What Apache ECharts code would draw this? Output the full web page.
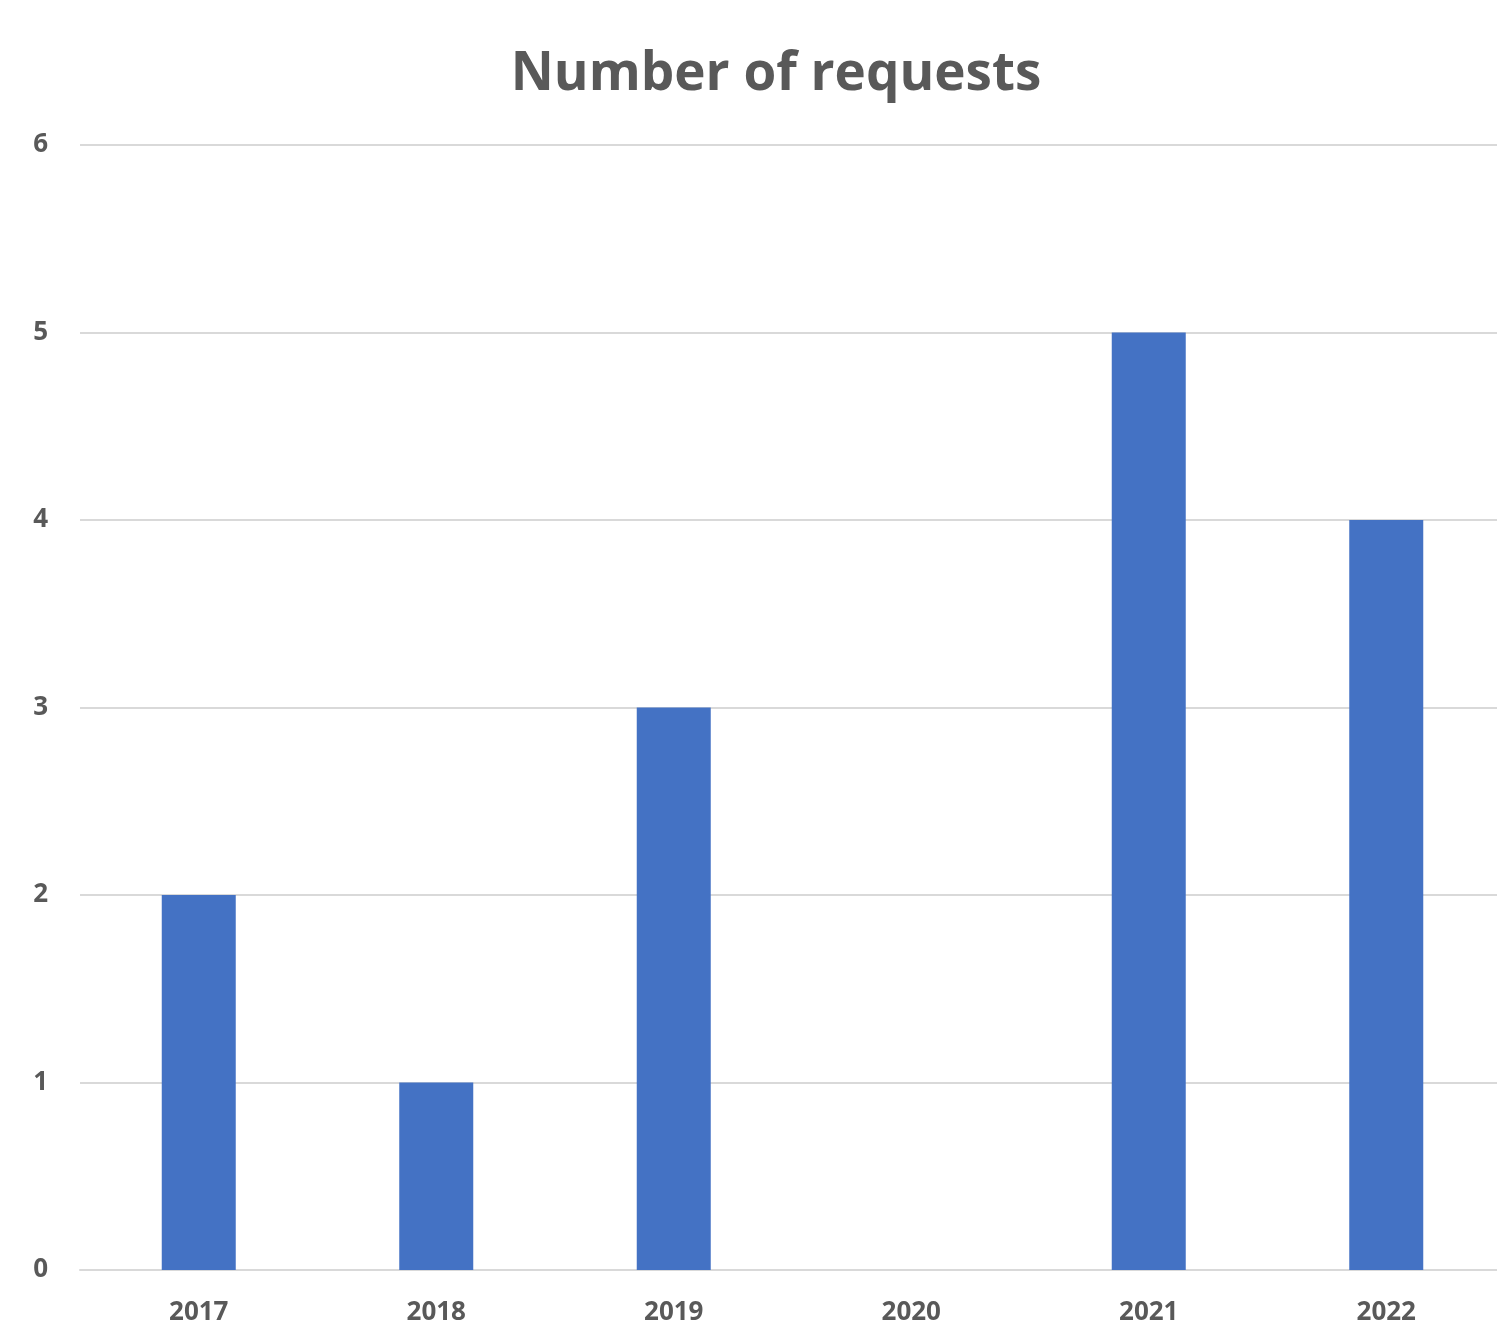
<!DOCTYPE html>
<html><head><meta charset="utf-8">
<script src="https://cdn.jsdelivr.net/npm/echarts@6/dist/echarts.min.js"></script>
<style>html,body{margin:0;padding:0;background:#fff}#c{width:1497px;height:1321px}</style>
</head><body><div id="c"></div>
<script>
const categories = ['2017','2018','2019','2020','2021','2022'];
const requests = [2, 1, 3, 0, 5, 4];
const yTicks = [0, 1, 2, 3, 4, 5, 6];
const chart = echarts.init(document.getElementById('c'));
const FONT = "'Open Sans', sans-serif";
chart.setOption({
  animation: false,
  title: {
    text: 'Number of requests', left: 771, top: 43, textAlign: 'center',
    textStyle: { fontFamily: FONT, fontWeight: 'bold', fontSize: 53, color: '#595959' }
  },
  grid: { left: 80, top: 145, width: 1425, height: 1125, containLabel: false, outerBoundsMode: 'none' },
  xAxis: {
    type: 'category', data: categories,
    axisLine: { lineStyle: { color: '#d9d9d9', width: 2 } },
    axisTick: { show: false },
    axisLabel: { fontFamily: FONT, fontWeight: 'bold', fontSize: 26, color: '#595959', margin: 30 }
  },
  yAxis: {
    type: 'value', min: yTicks[0], max: yTicks[yTicks.length - 1], interval: 1,
    axisLine: { show: false }, axisTick: { show: false },
    splitLine: { lineStyle: { color: '#d9d9d9', width: 2 } },
    axisLabel: { fontFamily: FONT, fontWeight: 'bold', fontSize: 26, color: '#595959', margin: 32 }
  },
  series: [{
    type: 'bar', data: requests, barWidth: 74,
    itemStyle: { color: '#4472C4' }
  }]
});
</script></body></html>
